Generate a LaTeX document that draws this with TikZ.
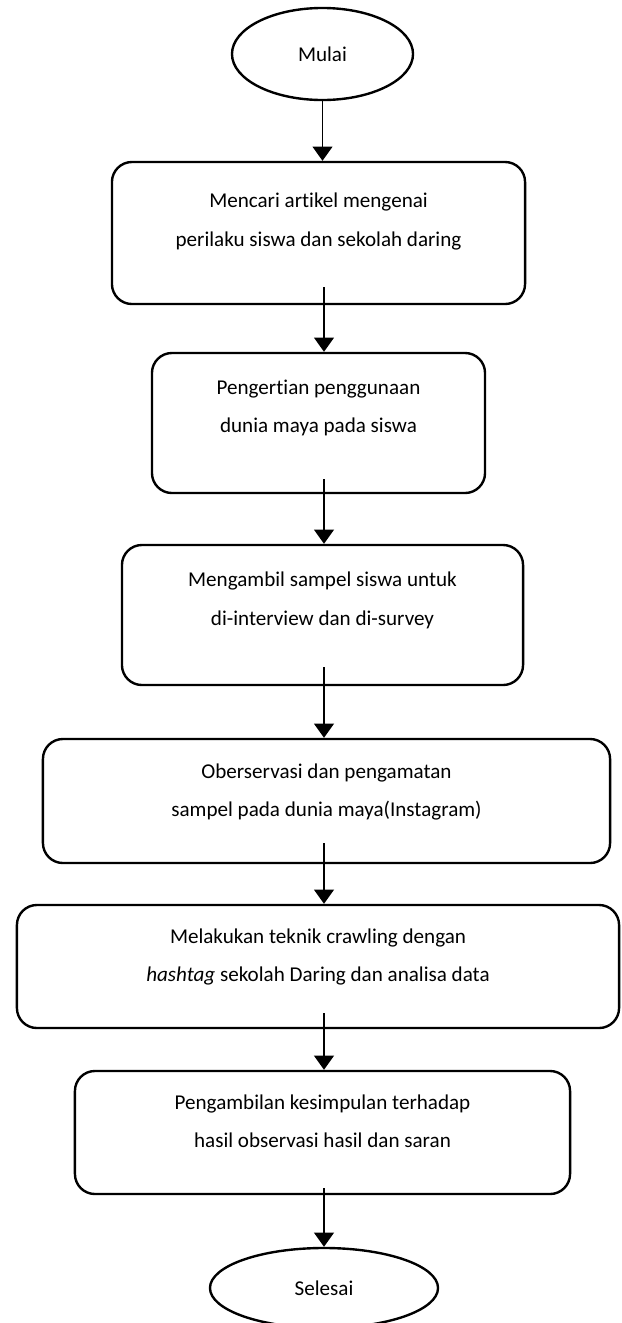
\documentclass[tikz,border=0pt]{standalone}
\usepackage{fontspec}
\setmainfont{Carlito}[Ligatures=NoCommon]
\usepackage{xcolor}
\definecolor{flowLine}{HTML}{000000}
\usepackage{tikz}
\usetikzlibrary{shapes.geometric,arrows.meta,positioning,calc}
\newcommand{\flowfont}{\fontsize{15}{27.5}\selectfont}
\tikzset{
    terminal/.style={
        draw=flowLine,
        ellipse,
        line width=1.7pt,
        inner sep=0pt,
        align=center,
        font=\flowfont
    },
    process/.style={
        draw=flowLine,
        rectangle,
        rounded corners=5mm,
        line width=1.7pt,
        inner sep=0pt,
        align=center,
        font=\flowfont
    },
    arrow/.style={
        -{Triangle[width=14pt,length=10pt]},
        line width=1pt,
        color=flowLine
    }
}

\begin{document}
\begin{tikzpicture}[x=0.025cm, y=-0.025cm]
    \useasboundingbox (0,0) rectangle (621,1323);

    % Start
    \node[terminal, minimum width=4.525cm, minimum height=2.3cm] (mulai) at (322.5,54) {Mulai};

    % Steps
    \node[process, minimum width=10.325cm, minimum height=3.55cm, text depth=18.9pt] (cari) at (318.5,233) {Mencari artikel mengenai\\perilaku siswa dan sekolah daring};
    \node[process, minimum width=8.325cm, minimum height=3.5cm, text depth=23.9pt] (pengertian) at (318.5,423) {Pengertian penggunaan\\dunia maya pada siswa};
    \node[process, minimum width=10.025cm, minimum height=3.5cm, text depth=23.3pt] (sampel) at (322.5,615) {Mengambil sampel siswa untuk\\di-interview dan di-survey};
    \node[process, minimum width=14.175cm, minimum height=3.1cm, text depth=15.3pt] (observasi) at (326.5,801) {Oberservasi dan pengamatan\\sampel pada dunia maya(Instagram)};
    \node[process, minimum width=15.05cm, minimum height=3.075cm, text depth=16.1pt] (crawling) at (318,966.5) {Melakukan teknik crawling dengan\\\textit{hashtag} sekolah Daring dan analisa data};
    \node[process, minimum width=12.375cm, minimum height=3.075cm, text depth=16.1pt] (kesimpulan) at (322.5,1132.5) {Pengambilan kesimpulan terhadap\\hasil observasi hasil dan saran};

    % End
    \node[terminal, minimum width=5.7cm, minimum height=2cm] (selesai) at (324,1288) {Selesai};

    % Arrows start inside each box
    \coordinate (out1) at (324,287);
    \coordinate (out2) at (324,479);
    \coordinate (out3) at (324,667);
    \coordinate (out4) at (324,843);
    \coordinate (out5) at (324,1013);
    \coordinate (out6) at (324,1188);

    \draw[arrow] (mulai.south) -- (mulai.south |- cari.north);
    \draw[arrow] (out1) -- (out1 |- pengertian.north);
    \draw[arrow] (out2) -- (out2 |- sampel.north);
    \draw[arrow] (out3) -- (out3 |- observasi.north);
    \draw[arrow] (out4) -- (out4 |- crawling.north);
    \draw[arrow] (out5) -- (out5 |- kesimpulan.north);
    \draw[arrow] (out6) -- (out6 |- selesai.north);
\end{tikzpicture}
\end{document}
